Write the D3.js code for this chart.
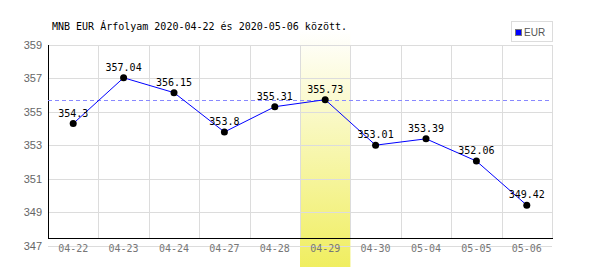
<!DOCTYPE html>
<html>
<head>
<meta charset="utf-8">
<script src="https://cdn.jsdelivr.net/npm/d3@7"></script>
<style>
  body { margin: 0; background: #fff; }
  svg { display: block; }
</style>
</head>
<body>
<svg id="chart"></svg>
<script>
// data
const dates = ["04-22", "04-23", "04-24", "04-27", "04-28", "04-29", "04-30", "05-04", "05-05", "05-06"];
const rates = [354.3, 357.04, 356.15, 353.8, 355.31, 355.73, 353.01, 353.39, 352.06, 349.42];
const yTicks = [347, 349, 351, 353, 355, 357, 359];
const highlightDate = "04-29";
const seriesName = "EUR";
const title = "MNB EUR Árfolyam 2020-04-22 és 2020-05-06 között.";

const width = 600, height = 270;
const marginLeft = 48, marginRight = 48, marginTop = 45;
const axisY = 238;

const svg = d3.select("#chart")
  .attr("width", width)
  .attr("height", height)
  .attr("viewBox", [0, 0, width, height]);

const x = d3.scaleBand()
  .domain(dates)
  .range([marginLeft, width - marginRight]);

const y = d3.scaleLinear()
  .domain([347, 359])
  .range([245.7, marginTop]);

// highlight band with gradient
const grad = svg.append("defs").append("linearGradient")
  .attr("id", "hl").attr("x1", 0).attr("y1", 0).attr("x2", 0).attr("y2", 1);
grad.append("stop").attr("offset", "0%").attr("stop-color", "#ffffff");
grad.append("stop").attr("offset", "100%").attr("stop-color", "#f0ee60");

svg.append("rect")
  .attr("x", x(highlightDate))
  .attr("y", 30)
  .attr("width", x.bandwidth())
  .attr("height", 237)
  .attr("fill", "url(#hl)");

// grid
svg.append("g").selectAll("line")
  .data(yTicks)
  .join("line")
  .attr("x1", marginLeft).attr("x2", width - marginRight)
  .attr("y1", d => Math.round(y(d)) + 0.5).attr("y2", d => Math.round(y(d)) + 0.5)
  .attr("stroke", "#dcdcdc");

svg.append("g").selectAll("line")
  .data(dates.slice(1).concat(["end"]))
  .join("line")
  .attr("x1", (d, i) => Math.round(marginLeft + (i + 1) * x.bandwidth()) + 0.5)
  .attr("x2", (d, i) => Math.round(marginLeft + (i + 1) * x.bandwidth()) + 0.5)
  .attr("y1", marginTop).attr("y2", axisY)
  .attr("stroke", "#dcdcdc");

// axes lines
svg.append("line")
  .attr("x1", marginLeft + 0.5).attr("x2", marginLeft + 0.5)
  .attr("y1", marginTop).attr("y2", axisY)
  .attr("stroke", "#000");
svg.append("line")
  .attr("x1", marginLeft).attr("x2", width - marginRight + 1)
  .attr("y1", axisY + 0.5).attr("y2", axisY + 0.5)
  .attr("stroke", "#000");

// y labels
svg.append("g").selectAll("text")
  .data(yTicks)
  .join("text")
  .attr("x", 42)
  .attr("y", d => y(d) + 4)
  .attr("text-anchor", "end")
  .style("font-family", "Liberation Sans, sans-serif")
  .style("font-size", "11px")
  .attr("fill", "#666")
  .text(d => d);

// x labels
svg.append("g").selectAll("text")
  .data(dates)
  .join("text")
  .attr("x", d => x(d) + x.bandwidth() / 2)
  .attr("y", 252)
  .attr("text-anchor", "middle")
  .style("font-family", "DejaVu Sans Mono, monospace")
  .style("font-size", "10px")
  .attr("fill", "#777")
  .text(d => d);

// reference dashed line at highlighted day value
const hlValue = rates[dates.indexOf(highlightDate)];
svg.append("line")
  .attr("x1", marginLeft).attr("x2", width - marginRight)
  .attr("y1", Math.round(y(hlValue)) + 0.5).attr("y2", Math.round(y(hlValue)) + 0.5)
  .attr("stroke", "#8888ff")
  .attr("stroke-dasharray", "4,3");

// line
const line = d3.line()
  .x((d, i) => x(dates[i]) + x.bandwidth() / 2)
  .y(d => y(d));
svg.append("path")
  .datum(rates)
  .attr("d", line)
  .attr("fill", "none")
  .attr("stroke", "#0000ff")
  .attr("stroke-width", 1);

svg.append("g").selectAll("circle")
  .data(rates)
  .join("circle")
  .attr("cx", (d, i) => x(dates[i]) + x.bandwidth() / 2)
  .attr("cy", d => y(d))
  .attr("r", 3.5)
  .attr("fill", "#000");

svg.append("g").selectAll("text")
  .data(rates)
  .join("text")
  .attr("x", (d, i) => x(dates[i]) + x.bandwidth() / 2)
  .attr("y", d => y(d) - 7)
  .attr("text-anchor", "middle")
  .style("font-family", "DejaVu Sans Mono, monospace")
  .style("font-size", "10px")
  .attr("fill", "#000")
  .text(d => d);

// title
svg.append("text")
  .attr("x", 52)
  .attr("y", 30)
  .style("font-family", "DejaVu Sans Mono, monospace")
  .style("font-size", "10px")
  .attr("fill", "#000")
  .text(title);

// legend
svg.append("rect")
  .attr("x", 511.5).attr("y", 21.5).attr("width", 41).attr("height", 20)
  .attr("fill", "#fff").attr("stroke", "#dcdcdc");
svg.append("rect")
  .attr("x", 515.5).attr("y", 29.5).attr("width", 6).attr("height", 6)
  .attr("fill", "#0000ff").attr("stroke", "#777");
svg.append("text")
  .attr("x", 524).attr("y", 36)
  .style("font-family", "Liberation Sans, sans-serif")
  .style("font-size", "10px")
  .attr("fill", "#555")
  .text(seriesName);
</script>
</body>
</html>
